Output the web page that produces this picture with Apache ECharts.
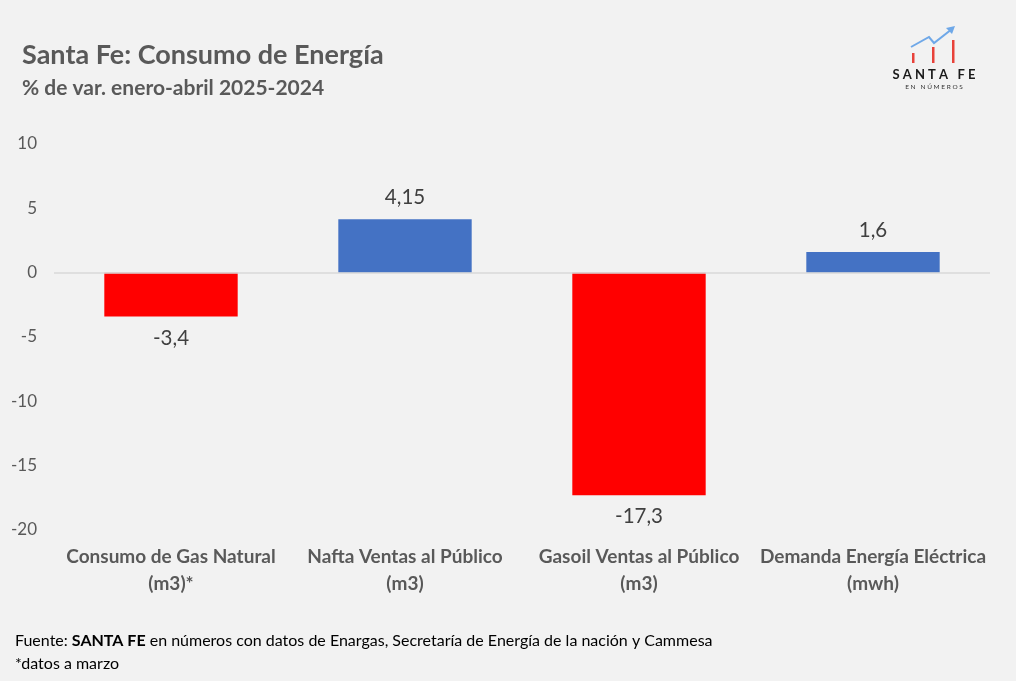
<!DOCTYPE html>
<html>
<head>
<meta charset="utf-8">
<script src="https://cdn.jsdelivr.net/npm/echarts@6/dist/echarts.min.js"></script>
<style>
html,body{margin:0;padding:0;background:#f2f2f2;}
#c{width:1016px;height:681px;}
</style>
</head>
<body>
<div id="c"></div>
<script>
const categories = ['Consumo de Gas Natural\n(m3)*', 'Nafta Ventas al Público\n(m3)', 'Gasoil Ventas al Público\n(m3)', 'Demanda Energía Eléctrica\n(mwh)'];
const values = [-3.4, 4.15, -17.3, 1.6];
const yTicks = { min: -20, max: 10, interval: 5 };

const FONT = 'Lato, "Open Sans", sans-serif';
const chart = echarts.init(document.getElementById('c'));

const dataItems = values.map(v => ({
  value: v,
  itemStyle: { color: v < 0 ? '#ff0000' : '#4472c4' },
  label: { position: v < 0 ? 'bottom' : 'top' }
}));

chart.setOption({
  backgroundColor: '#f2f2f2',
  animation: false,
  textStyle: { fontFamily: FONT },
  title: [
    { text: 'Santa Fe: Consumo de Energía', left: 17, top: 37,
      textStyle: { fontFamily: FONT, fontWeight: 'bold', fontSize: 27, color: '#595959' } },
    { text: '% de var. enero-abril 2025-2024', left: 17, top: 73,
      textStyle: { fontFamily: FONT, fontWeight: 'bold', fontSize: 21, color: '#595959' } }
  ],
  grid: { left: 54, right: 26, top: 144, bottom: 151, containLabel: false },
  xAxis: {
    type: 'category',
    data: categories,
    axisLine: { show: false, onZero: false },
    axisTick: { show: false },
    axisLabel: { color: '#595959', fontWeight: 'bold', fontSize: 19, fontFamily: FONT, lineHeight: 27, margin: 13, interval: 0 }
  },
  yAxis: {
    type: 'value',
    min: yTicks.min, max: yTicks.max, interval: yTicks.interval,
    splitLine: { show: false },
    axisLine: { show: false },
    axisTick: { show: false },
    axisLabel: { color: '#595959', fontSize: 17, fontFamily: FONT, margin: 17 }
  },
  series: [{
    type: 'bar',
    data: dataItems,
    barWidth: '57%',
    label: {
      show: true, color: '#404040', fontSize: 20.5, fontFamily: FONT, distance: 11,
      formatter: p => String(p.value).replace('.', ',')
    },
    markLine: {
      silent: true, symbol: 'none', label: { show: false },
      lineStyle: { color: '#d9d9d9', width: 1.5, type: 'solid' },
      data: [{ yAxis: 0 }]
    }
  }],
  graphic: [
    { type: 'text', left: 15, top: 633, style: {
      text: 'Fuente: {b|SANTA FE} en números con datos de Enargas, Secretaría de Energía de la nación y Cammesa',
      rich: { b: { fontWeight: 'bold', fontSize: 16, fontFamily: FONT, fill: '#000' } },
      fontSize: 16, fontFamily: FONT, fill: '#000' } },
    { type: 'text', left: 15, top: 656, style: { text: '*datos a marzo', fontSize: 16, fontFamily: FONT, fill: '#000' } },
    // logo
    { type: 'rect', shape: { x: 912, y: 53, width: 2.5, height: 10 }, style: { fill: '#e8423a' } },
    { type: 'rect', shape: { x: 932, y: 47, width: 2.5, height: 16 }, style: { fill: '#e8423a' } },
    { type: 'rect', shape: { x: 952, y: 40, width: 2.5, height: 23 }, style: { fill: '#e8423a' } },
    { type: 'polyline', shape: { points: [[911, 47], [929, 37], [934, 43], [952, 29]] }, style: { stroke: '#6fa8e8', lineWidth: 2, fill: null } },
    { type: 'polygon', shape: { points: [[955, 26], [946, 28], [952, 34]] }, style: { fill: '#6fa8e8' } },
    { type: 'text', x: 934, y: 75, style: { text: 'S A N T A   F E', textAlign: 'center', textVerticalAlign: 'middle', fontSize: 13, fontWeight: 'bold', fontFamily: FONT, fill: '#1a1a1a' } },
    { type: 'text', x: 934, y: 87, style: { text: 'E N   N Ú M E R O S', textAlign: 'center', textVerticalAlign: 'middle', fontSize: 6.5, fontFamily: FONT, fill: '#333' } }
  ]
});
</script>
</body>
</html>
